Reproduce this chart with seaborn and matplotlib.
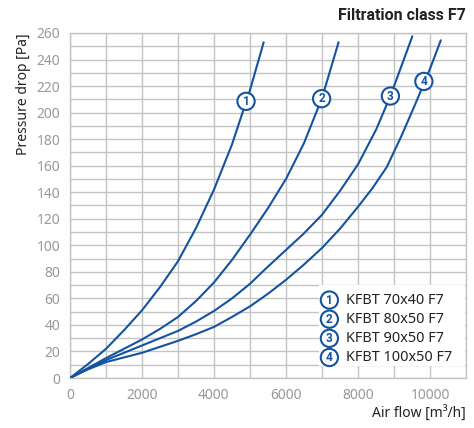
import pandas as pd
import matplotlib.pyplot as plt
import seaborn as sns

# --- data: air flow [m3/h] vs pressure drop [Pa] ---
models = ['KFBT 70x40 F7', 'KFBT 80x50 F7', 'KFBT 90x50 F7', 'KFBT 100x50 F7']

flow_1 = [0, 500, 1000, 1500, 2000, 2500, 3000, 3500, 4000, 4500, 5000, 5380]
dp_1 = [0, 10.5, 22, 36, 51, 68.5, 88, 113, 142, 176, 217, 253]

flow_2 = [0, 500, 1000, 1500, 2000, 2500, 3000, 3500, 4000, 4500, 5000, 5500, 6000, 6500, 7000, 7460]
dp_2 = [0, 7.5, 15, 22, 29, 37, 46, 58, 72, 89, 108, 128, 150, 177, 211, 253]

flow_3 = [0, 500, 1000, 1500, 2000, 2500, 3000, 3500, 4000, 4500, 5000, 5500, 6000, 6500, 7000,
          7500, 8000, 8500, 8900, 9510]
dp_3 = [0, 7, 13.5, 19, 24.5, 30, 35.5, 42.5, 50.5, 60, 71, 84, 96.5, 109, 123,
        141, 161, 187, 212.5, 257.5]

flow_4 = [0, 500, 1000, 1500, 2000, 2500, 3000, 3500, 4000, 4500, 5000, 5500, 6000, 6500, 7000,
          7500, 8000, 8400, 8800, 9200, 9600, 10000, 10300]
dp_4 = [0, 6.5, 12, 15.5, 19, 23.5, 28, 33, 38.5, 46, 54, 63.5, 74, 85.5, 98,
        112.5, 129, 143, 159, 182, 207, 233, 254.5]

# circled number on each curve
marker_flow = [4890, 6990, 8900, 9830]
marker_dp = [208.5, 210.5, 212.5, 223.5]

x_ticks = [0, 2000, 4000, 6000, 8000, 10000]
y_ticks = list(range(0, 261, 20))

BLUE = '#1453a0'
GRID = '#c4c4c4'
TICK = '#999999'
DARK = '#222222'
BOLD_FONT = ['Roboto', 'DejaVu Sans']

frames = []
for name, fx, fy in zip(models, [flow_1, flow_2, flow_3, flow_4], [dp_1, dp_2, dp_3, dp_4]):
    frames.append(pd.DataFrame({'flow': fx, 'dp': fy, 'model': name}))
df = pd.concat(frames, ignore_index=True)

sns.set_style('white')
plt.rcParams['font.family'] = ['Noto Sans', 'DejaVu Sans']

fig = plt.figure(figsize=(4.74, 4.28), dpi=100)
ax = fig.add_axes([70 / 474, 1 - 378 / 428, 396 / 474, 345 / 428])

sns.lineplot(data=df, x='flow', y='dp', hue='model', palette=[BLUE] * 4,
             sort=False, estimator=None, linewidth=1.5, legend=False, ax=ax, zorder=3)

ax.set_xlim(0, 11000)
ax.set_ylim(0, 260)
ax.set_xticks(range(0, 11001, 1000), minor=True)
ax.set_yticks(range(0, 261, 10), minor=True)
ax.set_xticks(x_ticks)
ax.set_yticks(y_ticks)
ax.grid(which='both', color=GRID, linewidth=1.0)
ax.set_axisbelow(True)
for s in ax.spines.values():
    s.set_color(GRID)
    s.set_linewidth(1.0)
ax.tick_params(which='major', length=4, color=GRID, labelcolor=TICK, labelsize=10, pad=3)
ax.tick_params(which='minor', length=0)

ax.set_xlabel('Air flow [m³/h]', loc='right', color=DARK, fontsize=10, labelpad=2)
ax.set_ylabel('Pressure drop [Pa]', loc='top', color=DARK, fontsize=10, labelpad=4)
fig.text(466 / 474, 1 - 16 / 428, 'Filtration class F7', ha='right', va='center',
         fontsize=11.5, fontweight='bold', family=BOLD_FONT, color=DARK)

# numbered circles on the curves
for i, (mx, my) in enumerate(zip(marker_flow, marker_dp)):
    ax.text(mx, my, str(i + 1), ha='center', va='center', color=BLUE, fontsize=8.5,
            fontweight='bold', family=BOLD_FONT, zorder=5,
            bbox=dict(boxstyle='circle,pad=0.18', fc='white', ec=BLUE, lw=1.5))

# legend box, lower right
ax.add_patch(plt.Rectangle((0.628, 0.035), 0.37, 0.235, transform=ax.transAxes,
                           fc='white', ec='none', zorder=4))
for i, name in enumerate(models):
    yy = 0.226 - i * 0.0555
    ax.text(0.655, yy, str(i + 1), transform=ax.transAxes, ha='center', va='center',
            color=BLUE, fontsize=8.5, fontweight='bold', family=BOLD_FONT, zorder=5,
            bbox=dict(boxstyle='circle,pad=0.18', fc='white', ec=BLUE, lw=1.5))
    ax.text(0.697, yy, name, transform=ax.transAxes, ha='left', va='center',
            color=DARK, fontsize=10.4, zorder=5)

plt.savefig('out.png', dpi=100)
